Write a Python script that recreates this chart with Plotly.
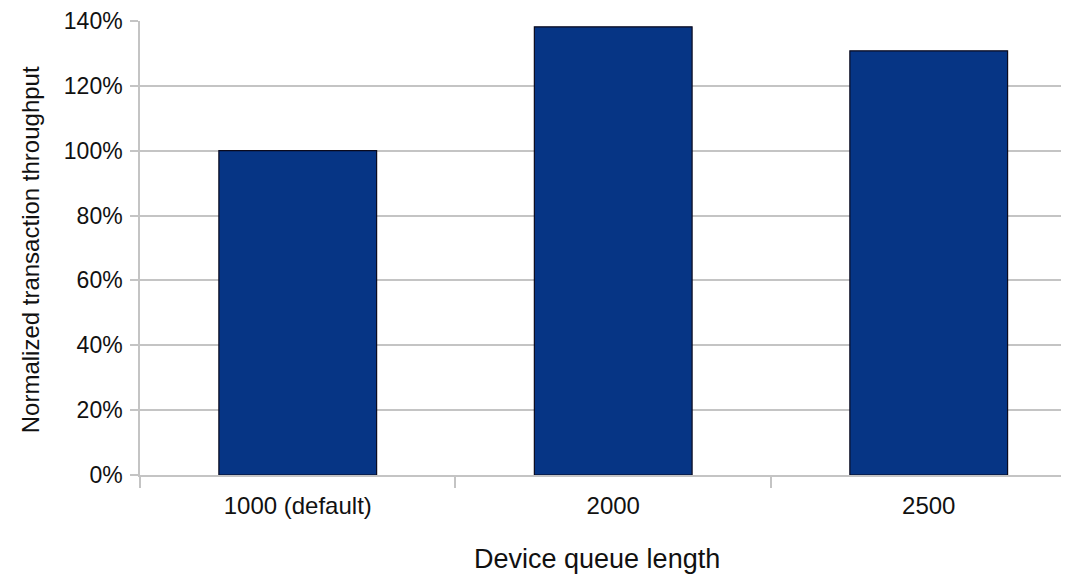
import plotly.graph_objects as go

categories = ["1000 (default)", "2000", "2500"]
throughput_pct = [100, 138.2, 130.8]
y_tick_vals = [0, 20, 40, 60, 80, 100, 120, 140]
y_tick_text = ["0%", "20%", "40%", "60%", "80%", "100%", "120%", "140%"]

FONT = "Liberation Sans, Arial, sans-serif"
GRID = "#c4c4c4"

fig = go.Figure(
    go.Bar(
        x=categories,
        y=throughput_pct,
        marker=dict(color="#063585", line=dict(color="#0a0a1e", width=1.2)),
        width=0.5,
    )
)

# page body has an 8px offset, so the figure is sized/margined to compensate
fig.update_layout(
    width=1069,
    height=567,
    margin=dict(l=132, r=0, t=13, b=100),
    paper_bgcolor="white",
    plot_bgcolor="white",
    showlegend=False,
    font=dict(family=FONT, color="#111111"),
    xaxis=dict(
        type="category",
        range=[-0.5, 2.470],
        showgrid=False,
        showline=True,
        linecolor=GRID,
        linewidth=1.5,
        ticks="outside",
        tickson="boundaries",
        ticklen=11,
        tickcolor=GRID,
        tickwidth=1.5,
        tickfont=dict(size=24, family=FONT, color="#111111"),
        ticklabelstandoff=8,
    ),
    yaxis=dict(
        range=[0, 140],
        tickvals=y_tick_vals,
        ticktext=y_tick_text,
        showgrid=True,
        gridcolor=GRID,
        gridwidth=1.5,
        showline=True,
        linecolor=GRID,
        linewidth=1.5,
        ticks="outside",
        ticklen=8,
        tickcolor=GRID,
        tickwidth=1.5,
        tickfont=dict(size=23, family=FONT, color="#111111"),
        ticklabelstandoff=3,
        zeroline=False,
    ),
    annotations=[
        dict(
            text="Device queue length",
            xref="paper", yref="paper",
            x=(597 - 140) / 937, y=0,
            xanchor="center", yanchor="middle",
            yshift=-84,
            showarrow=False,
            font=dict(size=27, family=FONT, color="#111111"),
        ),
        dict(
            text="Normalized transaction throughput",
            xref="paper", yref="paper",
            x=0, y=0.495,
            xanchor="center", yanchor="middle",
            xshift=-110,
            textangle=-90,
            showarrow=False,
            font=dict(size=24, family=FONT, color="#111111"),
        ),
    ],
)

fig.write_html("out.html")
